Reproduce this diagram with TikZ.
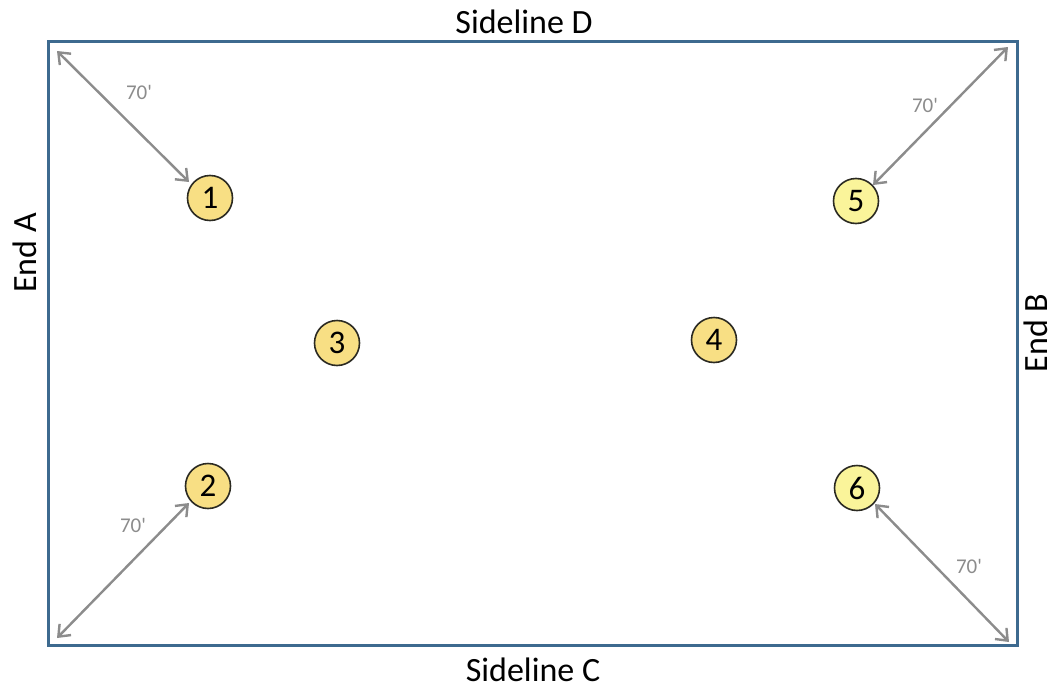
\documentclass[tikz,border=0pt]{standalone}
\usepackage{fontspec}
\setmainfont{Carlito}
\usetikzlibrary{arrows.meta}
\definecolor{fieldblue}{HTML}{3D6A8F}
\definecolor{arrowgray}{HTML}{8C8C8C}
\definecolor{gold}{HTML}{F8DF84}
\definecolor{paleyellow}{HTML}{FAF49A}
\definecolor{ringdark}{HTML}{2B2A22}
\tikzset{
  player/.style={circle, draw=ringdark, line width=1.6pt, minimum size=45pt, inner sep=0pt, font=\fontsize{33}{33}\selectfont},
  dim/.style={draw=arrowgray, line width=2.4pt, {Straight Barb[length=10pt,width=16pt]}-{Straight Barb[length=10pt,width=16pt]}},
  dimlabel/.style={text=arrowgray, font=\fontsize{21}{21}\selectfont},
  sidelabel/.style={font=\fontsize{34}{34}\selectfont, inner sep=0pt, anchor=base}
}
\begin{document}
\begin{tikzpicture}[x=1pt,y=-1pt]
\useasboundingbox (0,0) rectangle (1055,688);
\fill[white] (0,0) rectangle (1055,688);
\draw[fieldblue, line width=3pt] (48,41) rectangle (1017,645);
\node[sidelabel] (sd) at (524,34) {Sideline D};
\node[sidelabel] (sc) at (533,681) {Sideline C};
\node[sidelabel, rotate=90] (ea) at (36,253) {End A};
\node[sidelabel, rotate=90] (eb) at (1047,333) {End B};
\node[player, fill=gold] (p1) at (210,198) {1};
\node[player, fill=gold] (p2) at (208,486) {2};
\node[player, fill=gold] (p3) at (337,343) {3};
\node[player, fill=gold] (p4) at (714,340) {4};
\node[player, fill=paleyellow] (p5) at (856,201) {5};
\node[player, fill=paleyellow] (p6) at (857,488) {6};
\coordinate (c1) at (57,51);
\coordinate (c5) at (1008,47);
\coordinate (c2) at (57,638);
\coordinate (c6) at (1009,642);
\coordinate (t1) at (189,182);
\coordinate (t5) at (873,185);
\coordinate (t2) at (189,503);
\coordinate (t6) at (875,504);
\draw[dim] (c1) -- (t1);
\draw[dim] (c5) -- (t5);
\draw[dim] (c2) -- (t2);
\draw[dim] (c6) -- (t6);
\node[dimlabel] (l1) at (139,92) {70\textquotesingle};
\node[dimlabel] (l5) at (925,105) {70\textquotesingle};
\node[dimlabel] (l2) at (133,525) {70\textquotesingle};
\node[dimlabel] (l6) at (969,566) {70\textquotesingle};
\end{tikzpicture}
\end{document}
